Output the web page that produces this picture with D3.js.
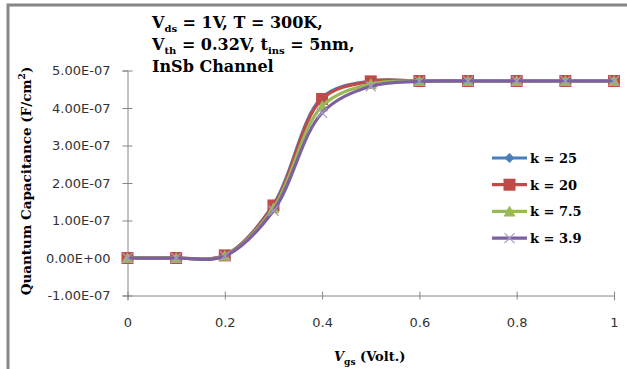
<!DOCTYPE html>
<html>
<head>
<meta charset="utf-8">
<script src="https://cdn.jsdelivr.net/npm/d3@7"></script>
<style>
body { margin: 0; background: #fff; }
svg text { fill: #000; }
.tick text { font-family: "DejaVu Sans", Verdana, sans-serif; font-size: 13px; fill: #333; }
.bold { font-family: "DejaVu Serif", "Liberation Serif", serif; font-weight: bold; }
</style>
</head>
<body>
<div id="chart"></div>
<script>
// x values (Vgs in volts)
var vgs = [0, 0.1, 0.2, 0.3, 0.4, 0.5, 0.6, 0.7, 0.8, 0.9, 1.0];
// quantum capacitance, units of 1e-7 F/cm^2
var k25 = [0, 0, 0.07, 1.43, 4.28, 4.72, 4.72, 4.72, 4.72, 4.72, 4.72];
var k20 = [0, 0, 0.07, 1.40, 4.24, 4.71, 4.72, 4.72, 4.72, 4.72, 4.72];
var k75 = [0, 0, 0.06, 1.33, 4.05, 4.64, 4.72, 4.72, 4.72, 4.72, 4.72];
var k39 = [0, 0, 0.05, 1.26, 3.87, 4.58, 4.71, 4.72, 4.72, 4.72, 4.72];
var seriesNames = ["k = 25", "k = 20", "k = 7.5", "k = 3.9"];
var yTicks = [-1, 0, 1, 2, 3, 4, 5];
var yTickLabels = ["-1.00E-07", "0.00E+00", "1.00E-07", "2.00E-07", "3.00E-07", "4.00E-07", "5.00E-07"];
var xTicks = [0, 0.2, 0.4, 0.6, 0.8, 1];

var series = [
    {name: seriesNames[0], values: k25, color: "#4a7ebb", marker: "diamond"},
    {name: seriesNames[1], values: k20, color: "#be4b48", marker: "square"},
    {name: seriesNames[2], values: k75, color: "#98b954", marker: "triangle"},
    {name: seriesNames[3], values: k39, color: "#7d60a0", marker: "cross"}
];

var W = 627, H = 369;
var svg = d3.select("#chart").append("svg").attr("width", W).attr("height", H);

// chart area border (only top/left visible in the crop)
svg.append("rect").attr("x", 8).attr("y", 5).attr("width", 640).attr("height", 400)
    .attr("fill", "#fff").attr("stroke", "#868686").attr("stroke-width", 3);

var scalex = d3.scaleLinear().domain([0, 1]).range([127.5, 614]);
var scaley = d3.scaleLinear().domain([-1, 5]).range([295.5, 70.5]);

// y axis
var yAxis = svg.append("g").attr("transform", "translate(127.5,0)")
    .call(d3.axisLeft(scaley).tickValues(yTicks).tickSize(5).tickPadding(12)
        .tickFormat(function (d, i) { return yTickLabels[i]; }));
// x axis at bottom
var xAxis = svg.append("g").attr("transform", "translate(0,295.5)")
    .call(d3.axisBottom(scalex).tickValues(xTicks).tickSize(5).tickPadding(17)
        .tickFormat(function (d) { return d3.format("")(d); }));
[yAxis, xAxis].forEach(function (a) {
    a.select(".domain").attr("stroke", "#868686");
    a.selectAll(".tick line").attr("stroke", "#868686");
});
yAxis.selectAll(".tick line").attr("x2", 5).attr("x1", -5);
xAxis.selectAll(".tick line").attr("y1", -4).attr("y2", 4);

var valueline = d3.line()
    .x(function (d, i) { return scalex(vgs[i]); })
    .y(function (d) { return scaley(d); })
    .curve(d3.curveCatmullRom.alpha(0.5));

function drawMarker(g, type, x, y, color) {
    if (type === "diamond") {
        g.append("path").attr("d", "M" + x + "," + (y - 5) + "L" + (x + 5) + "," + y + "L" + x + "," + (y + 5) + "L" + (x - 5) + "," + y + "Z")
            .attr("fill", color);
    } else if (type === "square") {
        g.append("rect").attr("x", x - 6).attr("y", y - 6).attr("width", 12).attr("height", 12).attr("fill", color);
    } else if (type === "triangle") {
        g.append("path").attr("d", "M" + x + "," + (y - 6) + "L" + (x + 6) + "," + (y + 5) + "L" + (x - 6) + "," + (y + 5) + "Z")
            .attr("fill", color);
    } else {
        g.append("path").attr("d", "M" + (x - 5) + "," + (y - 5) + "L" + (x + 5) + "," + (y + 5) + "M" + (x + 5) + "," + (y - 5) + "L" + (x - 5) + "," + (y + 5))
            .attr("stroke", "#a99bc9").attr("stroke-width", 1.2);
    }
}

series.forEach(function (s) {
    svg.append("path").datum(s.values).attr("d", valueline)
        .attr("fill", "none").attr("stroke", s.color).attr("stroke-width", 3.2);
    var g = svg.append("g");
    s.values.forEach(function (v, i) {
        drawMarker(g, s.marker, scalex(vgs[i]), scaley(v), s.color);
    });
});

// legend
series.forEach(function (s, i) {
    var y = 158 + i * 26.7;
    svg.append("line").attr("x1", 492).attr("x2", 527).attr("y1", y).attr("y2", y)
        .attr("stroke", s.color).attr("stroke-width", 3.2);
    drawMarker(svg, s.marker, 509.5, y, s.color);
    svg.append("text").attr("class", "bold").attr("x", 530).attr("y", y + 5)
        .attr("font-size", "13px").text(s.name);
});

// annotation text
var l1 = svg.append("text").attr("class", "bold").attr("font-size", "16px").attr("x", 152).attr("y", 28);
l1.append("tspan").text("V");
l1.append("tspan").attr("font-size", "10px").attr("dy", 4).text("ds");
l1.append("tspan").attr("dy", -4).text(" = 1V, T = 300K,");
var l2 = svg.append("text").attr("class", "bold").attr("font-size", "16px").attr("x", 152).attr("y", 50);
l2.append("tspan").text("V");
l2.append("tspan").attr("font-size", "10px").attr("dy", 4).text("th");
l2.append("tspan").attr("dy", -4).text(" = 0.32V, t");
l2.append("tspan").attr("font-size", "10px").attr("dy", 4).text("ins");
l2.append("tspan").attr("dy", -4).text(" = 5nm,");
svg.append("text").attr("class", "bold").attr("font-size", "16px").attr("x", 152).attr("y", 72).text("InSb Channel");

// axis titles
var yt = svg.append("text").attr("class", "bold").attr("font-size", "13.5px")
    .attr("text-anchor", "middle").attr("transform", "translate(31,181) rotate(-90)");
yt.append("tspan").text("Quantum Capacitance (F/cm");
yt.append("tspan").attr("font-size", "9px").attr("dy", -6).text("2");
yt.append("tspan").attr("dy", 6).text(")");

var xt = svg.append("text").attr("class", "bold").attr("font-size", "13px")
    .attr("x", 334).attr("y", 361);
xt.append("tspan").attr("font-style", "italic").text("V");
xt.append("tspan").attr("font-size", "9px").attr("dy", 4).text("gs");
xt.append("tspan").attr("dy", -4).text(" (Volt.)");
</script>
</body>
</html>
